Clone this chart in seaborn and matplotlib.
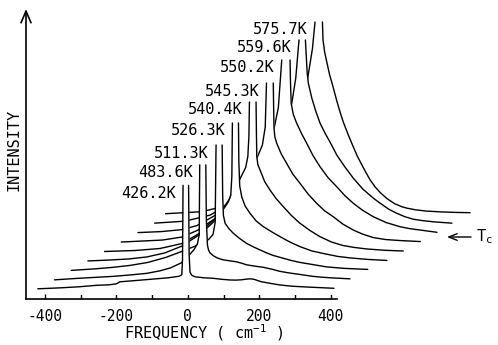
import numpy as np
import matplotlib
matplotlib.use("Agg")
import matplotlib.pyplot as plt
import seaborn as sns

sns.set_theme(style="white")
plt.rcParams['font.family'] = ['DejaVu Sans Mono', 'DejaVu Sans']
plt.rcParams['text.color'] = 'black'

# ---- data: temperature labels and spectra (relative frequency, intensity above own baseline) ----
temps = ["426.2K", "483.6K", "511.3K", "526.3K", "540.4K", "545.3K", "550.2K", "559.6K", "575.7K"]

f_4262 = [-415, -350, -300, -250, -215, -195, -185, -150, -100, -50, -20, -12, -10, -8.5,
          7, 8.5, 11, 16, 25, 50, 76, 100, 123, 140, 155, 167, 179, 190, 200, 210, 235, 263,
          300, 355, 414]
i_4262 = [0.5, 1.5, 2.5, 4, 4.5, 5.5, 7.5, 8.5, 10, 11.5, 13, 14.5, 30, 104,
          104, 35, 17, 14, 12.5, 11.5, 11, 10, 9.3, 9.2, 9.5, 10.1, 10.5, 10, 8.8, 7.6, 6, 4.3,
          3, 2, 1]

f_4836 = [-415, -350, -300, -250, -200, -157, -120, -90, -60, -45, -35, -25, -15, -10, -8.5,
          8.5, 10, 13, 16, 20, 30, 40, 57, 76, 95, 110, 123, 150, 170, 195, 216, 240, 260, 285,
          308, 335, 360, 412]
i_4836 = [0, 1.5, 2.5, 3.5, 5, 6.5, 9, 12, 17, 22, 26, 30, 36, 45, 115,
          115, 60, 35, 30, 27, 24, 22, 20, 19, 18, 16.5, 15, 13.5, 12.5, 10.5, 8.5, 7, 6, 4.7,
          3.5, 2.6, 2, 1]

f_5113 = [-415, -350, -300, -250, -200, -150, -105, -70, -45, -30, -18, -12, -9.5,
          7.5, 9, 11, 16, 26, 38, 56, 76, 95, 114, 132, 150, 175, 200, 225, 250, 275, 300, 350,
          415]
i_5113 = [0, 1.5, 3, 5, 8, 13, 19, 24, 28, 31, 36, 48, 125.4,
          125.4, 75, 55, 47, 42, 37.4, 32, 27, 23.5, 20.4, 17.5, 15, 12.5, 10, 8, 6.5, 5, 3.5, 2,
          1]

f_5263 = [-415, -350, -300, -250, -200, -151, -100, -60, -34, -22, -15, -12, -10.5,
          6.5, 7.5, 10, 15.7, 25, 38.9, 56, 76, 100, 122.8, 150, 178.7, 212, 250, 285, 320, 370,
          422]
i_5263 = [0, 1, 2, 4, 8, 15, 27, 40, 52.6, 59, 66, 85, 138,
          138, 100, 75, 64, 55, 47.6, 40, 34.3, 29, 24.3, 19, 14.3, 10, 7, 4.5, 3, 1.5,
          0.5]

f_5404 = [-415, -330, -260, -198, -150, -100, -60, -34, -20, -14, -11, -9.5,
          9, 10, 11, 14, 20.2, 33, 48, 65, 85.3, 108, 132, 160, 188, 220, 252, 285, 320, 370,
          421]
i_5404 = [0, 1, 3, 8, 18, 35, 55, 74, 84, 95, 115, 149.5,
          149.5, 120, 95, 87, 81.5, 70, 61.5, 53, 44.8, 36, 28.2, 21, 14.8, 9.5, 6, 4, 2.5, 1.2,
          0.5]

f_5453 = [-415, -300, -245, -200, -150, -100, -60, -34, -20, -12, -8.5,
          10.5, 11.5, 12.5, 15, 20.2, 33, 48, 65, 85.3, 108, 132, 155, 178.5, 205, 234.5, 260,
          290, 325, 365, 422]
i_5453 = [0, 2, 5, 12, 24, 42, 65, 85, 97, 115, 159,
          159, 135, 114, 105, 98.7, 88, 78.7, 68, 58.7, 48, 38.7, 31, 25.3, 18, 12, 8,
          4.5, 2.5, 1.5, 0.5]

f_5502 = [-415, -350, -291, -250, -200, -150, -100, -60, -34, -22, -12.5,
          10.7, 12, 14, 20, 29.4, 43, 57.4, 75, 94.6, 117, 141.3, 164, 187.8, 215, 243.7, 280,
          318.4, 345, 374, 422]
i_5502 = [0, 1, 3, 7, 17, 32, 55, 80, 104, 125, 172.6,
          172.6, 150, 129, 118, 109.3, 99, 89.3, 77, 65.9, 55, 45.9, 37, 29.3, 22, 15.9, 10,
          5.9, 4, 2.6, 0.3]

f_5596 = [-415, -330, -260, -200, -150, -100, -60, -31, -20, -10.9,
          7, 12, 15.2, 25, 36, 48, 62, 76, 95, 118, 141, 168, 197, 216, 240, 262, 285, 308, 335,
          370, 417]
i_5596 = [0, 2, 8, 20, 37, 62, 90, 120, 145, 183.2,
          183.2, 150, 140, 125, 112, 100, 90, 81, 68, 56, 45, 34, 25, 20, 14, 10, 6.5, 4, 2.5,
          1.2, 0]

f_5757 = [-431, -330, -260, -200, -150, -100, -60, -33, -20, -12.8,
          8, 9.5, 14, 20, 28, 37.6, 48, 57, 66, 80, 93, 105, 118, 130, 141, 155, 170, 189, 210,
          230, 245, 270, 300, 340, 380, 421]
i_5757 = [0, 2, 8, 20, 38, 65, 100, 136, 165, 191.7,
          191.7, 174, 162, 152, 139, 127, 113, 102, 92, 79, 68, 58, 49, 41, 34, 27, 21, 15, 10,
          7, 5.5, 3.8, 2.6, 1.8, 1.3, 1]

spectra = [(f_4262, i_4262), (f_4836, i_4836), (f_5113, i_5113), (f_5263, i_5263),
           (f_5404, i_5404), (f_5453, i_5453), (f_5502, i_5502), (f_5596, i_5596),
           (f_5757, i_5757)]

xticks = [-400, -300, -200, -100, 0, 100, 200, 300, 400]
xticklabels = ["-400", "", "-200", "", "0", "", "200", "", "400"]

# ---- waterfall layout (display offsets) ----
X0, X_STEP = -5.0, 46.7
Y0, Y_STEP = 9.7, 9.45

W, H = 498, 345
fig = plt.figure(figsize=(W / 100, H / 100), dpi=100)
ax = fig.add_axes([26 / W, (H - 299) / H, (336.7 - 26) / W, (299 - 9) / H])
ax.set_xlim(-453, 416.5)
ax.set_ylim(0, 290)

n = len(spectra)
for i in reversed(range(n)):
    f, inten = spectra[i]
    x = np.asarray(f, float) + X0 + X_STEP * i
    y = np.asarray(inten, float) + Y0 + Y_STEP * i
    z = 3 + 2 * (n - i)
    ax.fill_between(x, y, 5, color='white', lw=0, zorder=z, clip_on=False)
    k = int(np.argmax(inten))
    sns.lineplot(x=x[:k + 1], y=y[:k + 1], sort=False, estimator=None, color='black',
                 lw=1.0, ax=ax, zorder=z + 1, legend=False, clip_on=False)
    sns.lineplot(x=x[k + 1:], y=y[k + 1:], sort=False, estimator=None, color='black',
                 lw=1.0, ax=ax, zorder=z + 1, legend=False, clip_on=False)
    ax.text(x[k] - 20, y[k] - 8, temps[i], ha='right', va='center', fontsize=11,
            color='black', zorder=100)

for s in ['top', 'right', 'left']:
    ax.spines[s].set_visible(False)
ax.spines['bottom'].set_color('black')
ax.spines['bottom'].set_linewidth(1.2)
ax.spines['bottom'].set_zorder(50)

ax.set_xticks(xticks)
ax.set_xticklabels(xticklabels)
ax.set_yticks([])
ax.tick_params(axis='x', bottom=True, direction='in', length=4, width=1.0, pad=7,
               labelsize=10.5, colors='black')
ax.set_xlabel('')
ax.set_ylabel('')

# y axis arrow
ax.annotate('', xy=(0, 1), xycoords='axes fraction', xytext=(0, 0), textcoords='axes fraction',
            arrowprops=dict(arrowstyle='->,head_length=0.7,head_width=0.3', lw=1.2, color='black',
                            shrinkA=0, shrinkB=0), annotation_clip=False, zorder=60)

fig.text(204 / W, 1 - 333 / H, 'FREQUENCY ( $\\mathregular{cm^{-1}}$ )', ha='center', va='center',
         fontsize=11, color='black')
fig.text(14 / W, 1 - 150 / H, 'INTENSITY', rotation=90, ha='center', va='center',
         fontsize=11, color='black')

# Tc marker
ax.annotate('', xy=(447 / W, 1 - 237 / H), xycoords='figure fraction',
            xytext=(471 / W, 1 - 237 / H), textcoords='figure fraction',
            arrowprops=dict(arrowstyle='->,head_length=0.5,head_width=0.2', lw=1.0, color='black',
                            shrinkA=0, shrinkB=0), annotation_clip=False, zorder=100)
fig.text(476 / W, 1 - 237 / H, 'T$_\\mathregular{c}$', ha='left', va='center', fontsize=11,
         color='black', zorder=100)

fig.savefig('out.png', dpi=100)
